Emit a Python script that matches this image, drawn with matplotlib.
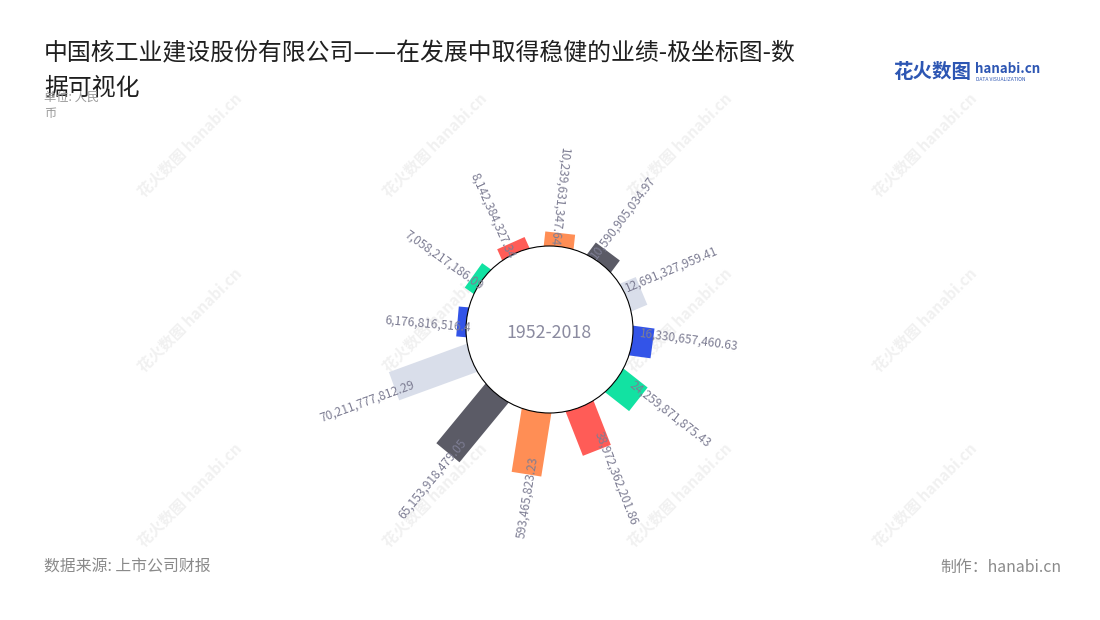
import numpy as np
import matplotlib
matplotlib.use("Agg")
import matplotlib.pyplot as plt
from matplotlib.patches import Circle
from matplotlib.transforms import Affine2D

plt.rcParams['font.family'] = ['Noto Sans CJK SC', 'DejaVu Sans']

# =====================
# DADOS
# =====================

valores = [6176816516.4, 7058217186.09, 8142384327.34, 10239631347.64,
           10590905034.97, 12691327959.41, 16330657460.63, 24259871875.43,
           38972362201.86, 53593465823.23, 65153918479.05, 70211777812.29]

rotulos = ["6,176,816,516.4", "7,058,217,186.09", "8,142,384,327.34",
           "10,239,631,347.64", "10,590,905,034.97", "12,691,327,959.41",
           "16,330,657,460.63", "24,259,871,875.43", "38,972,362,201.86",
           "593,465,823.23", "65,153,918,479.05", "70,211,777,812.29"]

cores = ["#3354e8", "#12e2a2", "#ff5c57", "#ff8e55", "#5b5b66", "#d9deea",
         "#3354e8", "#12e2a2", "#ff5c57", "#ff8e55", "#5b5b66", "#d9deea"]

titulo = ["中国核工业建设股份有限公司——在发展中取得稳健的业绩-极坐标图-数", "据可视化"]
periodo = "1952-2018"

# =====================
# FIGURA (coordenadas em pixels)
# =====================

fig = plt.figure(figsize=(11, 6.2), dpi=100)
ax = fig.add_axes([0, 0, 1, 1])

cx, cy = 549.5, 329.5
raio = 83.5
largura = 30

# marcas d'agua
for wx in [190, 435, 680, 925]:
    for wy in [145, 320, 495]:
        ax.text(wx, wy, "花火数图 hanabi.cn", rotation=45, ha="center", va="center",
                fontsize=11, color="#f1f1f1", fontweight="bold", zorder=0)

# escala radial
r_ext = [85.3 + v * 1.142e-9 for v in valores]
angulos = [(275 + 30.45 * i) % 360 for i in range(len(valores))]

barras = ax.bar(np.zeros(len(valores)), r_ext, width=largura, bottom=0, color=cores, zorder=2)
for b, th in zip(barras, angulos):
    b.set_transform(Affine2D().rotate_deg(180 + th).translate(cx, cy) + ax.transData)

ax.add_patch(Circle((cx, cy), raio, facecolor="white", edgecolor="black", lw=0.8, zorder=3))
ax.text(cx, cy + 4, periodo, ha="center", va="center", fontsize=12.8, color="#8b8ba0", zorder=4)

# rotulos
for r, th, txt in zip(r_ext, angulos, rotulos):
    t = np.radians(th)
    ux, uy = np.sin(t), -np.cos(t)
    fora = 10 < th < 180
    rn = 0.91 * r - 5
    desl = 8 if fora else 5
    px = cx + ux * rn + uy * desl
    py = cy + uy * rn - ux * desl
    if fora:
        rot = 90 - th
        ha = "left"
    else:
        rot = 270 - th
        ha = "right"
    rot = (rot + 180) % 360 - 180
    ax.text(px, py, txt, rotation=rot, rotation_mode="anchor", ha=ha, va="center",
            fontsize=8.6, color="#7d7d93", zorder=5)

# textos
ax.text(44, 54, titulo[0], ha="left", va="center", fontsize=17.2, color="#1f1f1f", zorder=6)
ax.text(44, 88, titulo[1], ha="left", va="center", fontsize=17.2, color="#1f1f1f", zorder=6)
ax.text(44, 97, "单位: 人民", ha="left", va="center", fontsize=8.8, color="#9a9a9a", zorder=7)
ax.text(44, 114, "币", ha="left", va="center", fontsize=8.8, color="#9a9a9a", zorder=7)

ax.text(44, 567, "数据来源: 上市公司财报", ha="left", va="center", fontsize=11.4, color="#8a8a8a")
ax.text(1061, 567, "制作：hanabi.cn", ha="right", va="center", fontsize=11.4, color="#8a8a8a")

# logo
ax.text(893, 72, "花火数图", ha="left", va="center", fontsize=14, color="#2d56b3", fontweight="bold")
ax.text(975, 69, "hanabi.cn", ha="left", va="center", fontsize=9.6, color="#2d56b3", fontweight="bold")
ax.text(976, 79.5, "DATA VISUALIZATION", ha="left", va="center", fontsize=3.6, color="#2d56b3")

ax.set_xlim(0, 1100)
ax.set_ylim(620, 0)
ax.axis("off")

fig.savefig("out.png", dpi=100, facecolor="white")
